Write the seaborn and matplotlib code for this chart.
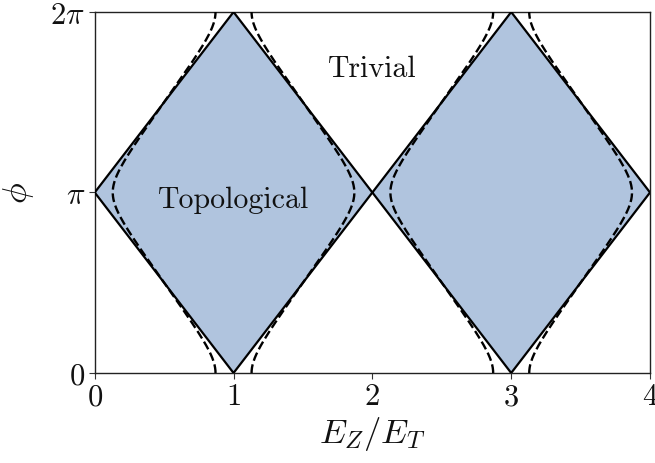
import numpy as np
import pandas as pd
import matplotlib
matplotlib.use("Agg")
import matplotlib.pyplot as plt
import seaborn as sns

# Diamond-shaped topological regions: (E_Z/E_T, phi/pi) vertices
diamond_1_ez = [0.0, 1.0, 2.0, 1.0, 0.0]
diamond_1_phi = [1.0, 0.0, 1.0, 2.0, 1.0]
diamond_2_ez = [2.0, 3.0, 4.0, 3.0, 2.0]
diamond_2_phi = [1.0, 0.0, 1.0, 2.0, 1.0]

# Smoothed phase boundary: cos(pi E) + alpha cos(phi) = 0
alpha = 0.918
phi_grid = np.linspace(0, 2 * np.pi, 600)

x_ticks = [0, 1, 2, 3, 4]
x_tick_labels = ["$0$", "$1$", "$2$", "$3$", "$4$"]
y_ticks = [0, np.pi, 2 * np.pi]
y_tick_labels = ["$0$", r"$\pi$", r"$2\pi$"]

fill_color = "#b0c4de"

sns.set_style("ticks")
plt.rcParams["font.family"] = "serif"
plt.rcParams["font.serif"] = ["cmr10", "DejaVu Serif"]
plt.rcParams["mathtext.fontset"] = "cm"
plt.rcParams["axes.unicode_minus"] = False
plt.rcParams["text.color"] = "#111111"
plt.rcParams["axes.labelcolor"] = "#111111"
plt.rcParams["xtick.labelcolor"] = "#111111"
plt.rcParams["ytick.labelcolor"] = "#111111"

fig = plt.figure(figsize=(6.55, 4.64), dpi=100)
ax = fig.add_axes([0.1446, 0.194, 0.8478, 0.778])

for ez, ph in [(diamond_1_ez, diamond_1_phi), (diamond_2_ez, diamond_2_phi)]:
    ph_rad = np.array(ph) * np.pi
    ax.fill(ez, ph_rad, color=fill_color, lw=0, zorder=1)
    df = pd.DataFrame({"ez": ez, "phi": ph_rad})
    sns.lineplot(data=df, x="ez", y="phi", sort=False, estimator=None,
                 color="black", lw=1.6, ax=ax, zorder=3)

# Dashed smoothed boundaries, two branches per diamond
base = np.arccos(-alpha * np.cos(phi_grid)) / np.pi
branches = [base, 2 - base, base + 2, 4 - base]
for br in branches:
    df = pd.DataFrame({"ez": br, "phi": phi_grid})
    sns.lineplot(data=df, x="ez", y="phi", sort=False, estimator=None,
                 color="black", lw=1.7, ls="--", ax=ax, zorder=4)

ax.set_xlim(0, 4)
ax.set_ylim(0, 2 * np.pi)
ax.set_xticks(x_ticks)
ax.set_xticklabels(x_tick_labels)
ax.set_yticks(y_ticks)
ax.set_yticklabels(y_tick_labels)
ax.tick_params(labelsize=22, length=4, width=0.8, color="#333333", pad=3)
for s in ax.spines.values():
    s.set_linewidth(1.0)
    s.set_color("#222222")

ax.set_xlabel(r"$E_Z/E_T$", fontsize=25, labelpad=3)
ax.set_ylabel(r"$\phi$", fontsize=25, labelpad=10)

ax.text(1.0, 0.965 * np.pi, "Topological", fontsize=21.5, ha="center",
        va="center", family="cmr10", zorder=5)
ax.text(2.0, 1.69 * np.pi, "Trivial", fontsize=21.5, ha="center",
        va="center", family="cmr10", zorder=5)

fig.savefig("out.png", dpi=100)
